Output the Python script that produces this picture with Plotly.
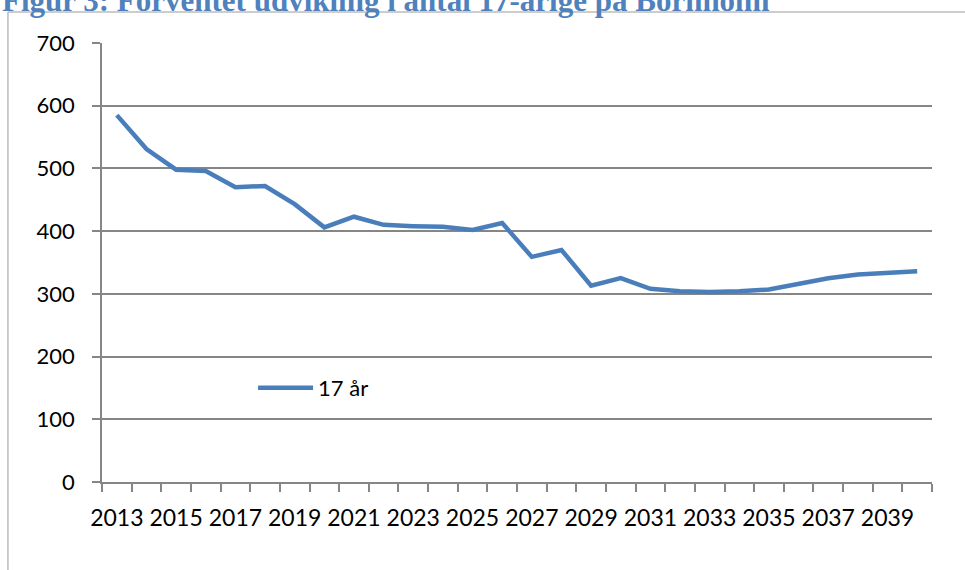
import plotly.graph_objects as go

# projected number of 17-year-olds on Bornholm
years = list(range(2013, 2041))
values = [585, 531, 498, 496, 470, 472, 443, 406, 423, 410, 408, 407, 402, 413,
          359, 370, 313, 325, 308, 304, 303, 304, 307, 316, 325, 331, 334, 336]
label_years = list(range(2013, 2040, 2))
series_name = "17 år"
title_text = "Figur 3: Forventet udvikling i antal 17-årige på Bornholm"

GRID = "#868686"
BLUE = "#4A7EBB"
FONT = "Lato"

fig = go.Figure()
fig.add_trace(go.Scatter(x=years, y=values, name=series_name, mode="lines",
                         line=dict(color=BLUE, width=4.5)))

fig.update_layout(
    width=965, height=570,
    margin=dict(l=102, r=33, t=43, b=88),
    paper_bgcolor="white", plot_bgcolor="white",
    font=dict(family=FONT, size=22, color="black"),
    showlegend=True,
    legend=dict(x=0.182, y=0.214, xanchor="left", yanchor="middle",
                itemwidth=55, bgcolor="rgba(0,0,0,0)", font=dict(size=22)),
)

fig.update_xaxes(
    range=[2012.5, 2040.5], tickmode="array", tickvals=label_years,
    ticks="outside", ticklen=15, tickcolor="rgba(0,0,0,0)",
    tickfont=dict(size=23),
    showgrid=False, zeroline=False,
    showline=True, linecolor=GRID, linewidth=1.5,
    minor=dict(tickmode="linear", tick0=2012.5, dtick=1, ticks="outside",
               ticklen=8, tickcolor=GRID, tickwidth=1.5, showgrid=False),
)
fig.update_yaxes(
    range=[0, 700], dtick=100, ticks="outside", ticklen=8, tickcolor=GRID,
    tickwidth=1.5, ticklabelstandoff=13,
    showgrid=True, gridcolor=GRID, gridwidth=1.5, zeroline=False,
    showline=True, linecolor=GRID, linewidth=1.5,
)

# chart frame, cut off by the page edges
fig.add_shape(type="line", xref="paper", yref="paper",
              x0=-0.1133, x1=-0.1133, y0=1.0706, y1=-0.25,
              line=dict(color="#9a9a9a", width=1))
fig.add_shape(type="line", xref="paper", yref="paper",
              x0=-0.1133, x1=1.06, y0=1.0706, y1=1.0706,
              line=dict(color="#9a9a9a", width=1))

fig.add_annotation(text=f"<b>{title_text}</b>", xref="paper", yref="paper",
                   x=-0.1229, y=1.0964, xanchor="left", yanchor="middle",
                   showarrow=False,
                   font=dict(family="Liberation Serif", size=31, color="#4F81BD"))

fig.write_html("out.html", config={"displayModeBar": False},
               post_script="document.body.style.margin='0';")
